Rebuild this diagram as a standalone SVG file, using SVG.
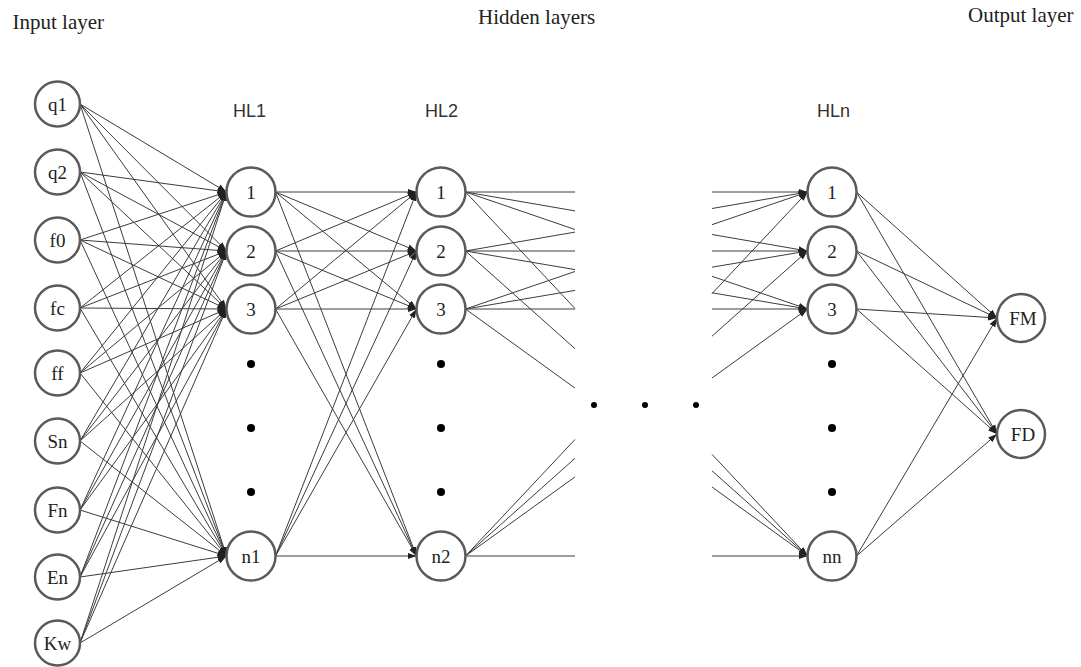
<svg xmlns="http://www.w3.org/2000/svg" width="1081" height="667" viewBox="0 0 1081 667">
<style>
.t{font-family:"Liberation Serif","Times New Roman",serif;font-size:21px;fill:#222}
.h{font-family:"Liberation Sans",Arial,sans-serif;font-size:18px;fill:#333}
.n circle{fill:#fff;stroke:#5a5a5a;stroke-width:2.5}
.n text{font-family:"Liberation Serif","Times New Roman",serif;font-size:19px;fill:#222;text-anchor:middle}
#conn line{stroke:#3c3c3c;stroke-width:1}
#conn .a{marker-end:url(#ah)}
.dot{fill:#000}
</style>
<defs>
<marker id="ah" markerWidth="10" markerHeight="8" refX="9" refY="4" orient="auto" markerUnits="userSpaceOnUse"><path d="M0,0.8 L9,4 L0,7.2 z" fill="#222"/></marker>
</defs>
<rect width="1081" height="667" fill="#fff"/>
<text class="t" x="12.5" y="29">Input layer</text>
<text class="t" x="478" y="24">Hidden layers</text>
<text class="t" x="968" y="22">Output layer</text>
<text class="h" x="233" y="117">HL1</text>
<text class="h" x="425" y="117">HL2</text>
<text class="h" x="817" y="117">HLn</text>
<g id="conn">
<!-- input to HL1 -->
<g>
<line class="a" x1="80" y1="104" x2="226.5" y2="192"/><line class="a" x1="80" y1="104" x2="226.5" y2="251"/><line class="a" x1="80" y1="104" x2="226.5" y2="309"/><line class="a" x1="80" y1="104" x2="226.5" y2="556"/>
<line class="a" x1="80" y1="172" x2="226.5" y2="192"/><line class="a" x1="80" y1="172" x2="226.5" y2="251"/><line class="a" x1="80" y1="172" x2="226.5" y2="309"/><line class="a" x1="80" y1="172" x2="226.5" y2="556"/>
<line class="a" x1="80" y1="240" x2="226.5" y2="192"/><line class="a" x1="80" y1="240" x2="226.5" y2="251"/><line class="a" x1="80" y1="240" x2="226.5" y2="309"/><line class="a" x1="80" y1="240" x2="226.5" y2="556"/>
<line class="a" x1="80" y1="308" x2="226.5" y2="192"/><line class="a" x1="80" y1="308" x2="226.5" y2="251"/><line class="a" x1="80" y1="308" x2="226.5" y2="309"/><line class="a" x1="80" y1="308" x2="226.5" y2="556"/>
<line class="a" x1="80" y1="373" x2="226.5" y2="192"/><line class="a" x1="80" y1="373" x2="226.5" y2="251"/><line class="a" x1="80" y1="373" x2="226.5" y2="309"/><line class="a" x1="80" y1="373" x2="226.5" y2="556"/>
<line class="a" x1="80" y1="441" x2="226.5" y2="192"/><line class="a" x1="80" y1="441" x2="226.5" y2="251"/><line class="a" x1="80" y1="441" x2="226.5" y2="309"/><line class="a" x1="80" y1="441" x2="226.5" y2="556"/>
<line class="a" x1="80" y1="510" x2="226.5" y2="192"/><line class="a" x1="80" y1="510" x2="226.5" y2="251"/><line class="a" x1="80" y1="510" x2="226.5" y2="309"/><line class="a" x1="80" y1="510" x2="226.5" y2="556"/>
<line class="a" x1="80" y1="577" x2="226.5" y2="192"/><line class="a" x1="80" y1="577" x2="226.5" y2="251"/><line class="a" x1="80" y1="577" x2="226.5" y2="309"/><line class="a" x1="80" y1="577" x2="226.5" y2="556"/>
<line class="a" x1="80" y1="643" x2="226.5" y2="192"/><line class="a" x1="80" y1="643" x2="226.5" y2="251"/><line class="a" x1="80" y1="643" x2="226.5" y2="309"/><line class="a" x1="80" y1="643" x2="226.5" y2="556"/>
</g>
<!-- HL1 to HL2 -->
<g>
<line class="a" x1="275.5" y1="192" x2="416.5" y2="192"/><line class="a" x1="275.5" y1="192" x2="416.5" y2="251"/><line class="a" x1="275.5" y1="192" x2="416.5" y2="309"/><line class="a" x1="275.5" y1="192" x2="416.5" y2="556"/>
<line class="a" x1="275.5" y1="251" x2="416.5" y2="192"/><line class="a" x1="275.5" y1="251" x2="416.5" y2="251"/><line class="a" x1="275.5" y1="251" x2="416.5" y2="309"/><line class="a" x1="275.5" y1="251" x2="416.5" y2="556"/>
<line class="a" x1="275.5" y1="309" x2="416.5" y2="192"/><line class="a" x1="275.5" y1="309" x2="416.5" y2="251"/><line class="a" x1="275.5" y1="309" x2="416.5" y2="309"/><line class="a" x1="275.5" y1="309" x2="416.5" y2="556"/>
<line class="a" x1="275.5" y1="556" x2="416.5" y2="192"/><line class="a" x1="275.5" y1="556" x2="416.5" y2="251"/><line class="a" x1="275.5" y1="556" x2="416.5" y2="309"/><line class="a" x1="275.5" y1="556" x2="416.5" y2="556"/>
</g>
<!-- HL2 outgoing (cut) -->
<g>
<line x1="465.5" y1="192" x2="575" y2="192"/><line x1="465.5" y1="192" x2="575" y2="210.9"/><line x1="465.5" y1="192" x2="575" y2="229.5"/><line x1="465.5" y1="192" x2="575" y2="308.5"/>
<line x1="465.5" y1="251" x2="575" y2="232.1"/><line x1="465.5" y1="251" x2="575" y2="251"/><line x1="465.5" y1="251" x2="575" y2="269.6"/><line x1="465.5" y1="251" x2="575" y2="348.7"/>
<line x1="465.5" y1="309" x2="575" y2="271.5"/><line x1="465.5" y1="309" x2="575" y2="290.4"/><line x1="465.5" y1="309" x2="575" y2="309"/><line x1="465.5" y1="309" x2="575" y2="388.1"/>
<line x1="465.5" y1="556" x2="575" y2="439.5"/><line x1="465.5" y1="556" x2="575" y2="458.3"/><line x1="465.5" y1="556" x2="575" y2="476.9"/><line x1="465.5" y1="556" x2="575" y2="556"/>
</g>
<!-- HLn incoming (cut) -->
<g>
<line class="a" x1="712" y1="192" x2="807.5" y2="192"/><line class="a" x1="712" y1="208.5" x2="807.5" y2="192"/><line class="a" x1="712" y1="224.7" x2="807.5" y2="192"/><line class="a" x1="712" y1="293.6" x2="807.5" y2="192"/>
<line class="a" x1="712" y1="234.5" x2="807.5" y2="251"/><line class="a" x1="712" y1="251" x2="807.5" y2="251"/><line class="a" x1="712" y1="267.2" x2="807.5" y2="251"/><line class="a" x1="712" y1="336.2" x2="807.5" y2="251"/>
<line class="a" x1="712" y1="276.3" x2="807.5" y2="309"/><line class="a" x1="712" y1="292.8" x2="807.5" y2="309"/><line class="a" x1="712" y1="309" x2="807.5" y2="309"/><line class="a" x1="712" y1="378" x2="807.5" y2="309"/>
<line class="a" x1="712" y1="454.4" x2="807.5" y2="556"/><line class="a" x1="712" y1="470.8" x2="807.5" y2="556"/><line class="a" x1="712" y1="487" x2="807.5" y2="556"/><line class="a" x1="712" y1="556" x2="807.5" y2="556"/>
</g>
<!-- HLn to output -->
<g>
<line class="a" x1="856.5" y1="192" x2="997" y2="318"/><line class="a" x1="856.5" y1="192" x2="997" y2="434"/>
<line class="a" x1="856.5" y1="251" x2="997" y2="318"/><line class="a" x1="856.5" y1="251" x2="997" y2="434"/>
<line class="a" x1="856.5" y1="309" x2="997" y2="318"/><line class="a" x1="856.5" y1="309" x2="997" y2="434"/>
<line class="a" x1="856.5" y1="556" x2="997" y2="318"/><line class="a" x1="856.5" y1="556" x2="997" y2="434"/>
</g>
</g>
<g id="in-q1" class="n"><circle cx="57.5" cy="104" r="22.5"/><text x="57.5" y="110.5">q1</text></g>
<g id="in-q2" class="n"><circle cx="57.5" cy="172" r="22.5"/><text x="57.5" y="178.5">q2</text></g>
<g id="in-f0" class="n"><circle cx="57.5" cy="240" r="22.5"/><text x="57.5" y="246.5">f0</text></g>
<g id="in-fc" class="n"><circle cx="57.5" cy="308" r="22.5"/><text x="57.5" y="314.5">fc</text></g>
<g id="in-ff" class="n"><circle cx="57.5" cy="373" r="22.5"/><text x="57.5" y="379.5">ff</text></g>
<g id="in-Sn" class="n"><circle cx="57.5" cy="441" r="22.5"/><text x="57.5" y="447.5">Sn</text></g>
<g id="in-Fn" class="n"><circle cx="57.5" cy="510" r="22.5"/><text x="57.5" y="516.5">Fn</text></g>
<g id="in-En" class="n"><circle cx="57.5" cy="577" r="22.5"/><text x="57.5" y="583.5">En</text></g>
<g id="in-Kw" class="n"><circle cx="57.5" cy="643" r="22.5"/><text x="57.5" y="649.5">Kw</text></g>
<g id="hl1-1" class="n"><circle cx="251" cy="192" r="24.5"/><text x="251" y="198.5">1</text></g>
<g id="hl1-2" class="n"><circle cx="251" cy="251" r="24.5"/><text x="251" y="257.5">2</text></g>
<g id="hl1-3" class="n"><circle cx="251" cy="309" r="24.5"/><text x="251" y="315.5">3</text></g>
<g id="hl1-n1" class="n"><circle cx="251" cy="556" r="24.5"/><text x="251" y="562.5">n1</text></g>
<g id="hl2-1" class="n"><circle cx="441" cy="192" r="24.5"/><text x="441" y="198.5">1</text></g>
<g id="hl2-2" class="n"><circle cx="441" cy="251" r="24.5"/><text x="441" y="257.5">2</text></g>
<g id="hl2-3" class="n"><circle cx="441" cy="309" r="24.5"/><text x="441" y="315.5">3</text></g>
<g id="hl2-n2" class="n"><circle cx="441" cy="556" r="24.5"/><text x="441" y="562.5">n2</text></g>
<g id="hln-1" class="n"><circle cx="832" cy="192" r="24.5"/><text x="832" y="198.5">1</text></g>
<g id="hln-2" class="n"><circle cx="832" cy="251" r="24.5"/><text x="832" y="257.5">2</text></g>
<g id="hln-3" class="n"><circle cx="832" cy="309" r="24.5"/><text x="832" y="315.5">3</text></g>
<g id="hln-nn" class="n"><circle cx="832" cy="556" r="24.5"/><text x="832" y="562.5">nn</text></g>
<g id="out-FM" class="n"><circle cx="1021" cy="318" r="24"/><text x="1023" y="324.5">FM</text></g>
<g id="out-FD" class="n"><circle cx="1021" cy="434" r="24"/><text x="1023" y="440.5">FD</text></g>
<g id="dots">
<circle class="dot" cx="251" cy="364" r="4"/><circle class="dot" cx="251" cy="428" r="4"/><circle class="dot" cx="251" cy="492" r="4"/>
<circle class="dot" cx="441" cy="364" r="4"/><circle class="dot" cx="441" cy="428" r="4"/><circle class="dot" cx="441" cy="492" r="4"/>
<circle class="dot" cx="832" cy="364" r="4"/><circle class="dot" cx="832" cy="428" r="4"/><circle class="dot" cx="832" cy="492" r="4"/>
<circle class="dot" cx="594" cy="405" r="3"/><circle class="dot" cx="645" cy="405" r="3"/><circle class="dot" cx="696" cy="405" r="3"/>
</g>
</svg>
